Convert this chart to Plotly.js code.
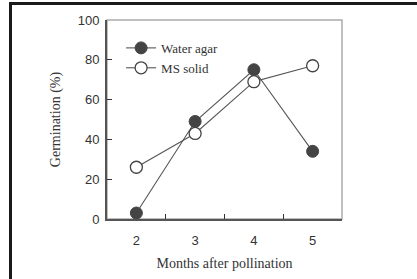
<!DOCTYPE html>
<html><head><meta charset="utf-8">
<script src="https://cdn.plot.ly/plotly-3.0.1.min.js"></script>
<style>
html,body{margin:0;padding:0;background:#fff;}
#chart{width:417px;height:279px;position:absolute;left:0;top:0;}
#frame{position:absolute;left:9px;top:2px;width:500px;height:400px;border-left:3px solid #1a1a1a;border-top:3px solid #1a1a1a;pointer-events:none;}
</style></head>
<body>
<div id="chart"></div>
<div id="frame"></div>
<script>
const months = [2, 3, 4, 5];
const waterAgar = [3, 49, 75, 34];
const msSolid = [26, 43, 69, 77];
const yTicks = [0, 20, 40, 60, 80, 100];
const boundaryTicks = [2.5, 3.5, 4.5];

const lineCol = '#555';
const traces = [
  {x: months, y: waterAgar, name: 'Water agar', mode: 'lines+markers', type: 'scatter',
   line: {color: lineCol, width: 1.1},
   marker: {symbol: 'circle', size: 12, color: '#444', line: {color: '#444', width: 1}}},
  {x: months, y: msSolid, name: 'MS solid', mode: 'lines+markers', type: 'scatter',
   line: {color: lineCol, width: 1.1},
   marker: {symbol: 'circle', size: 12, color: '#fff', line: {color: '#444', width: 1.3}}},
  {x: months, y: [null, null, null, null], xaxis: 'x2', yaxis: 'y', type: 'scatter', mode: 'markers', showlegend: false, hoverinfo: 'skip'}
];

const layout = {
  width: 417, height: 279,
  margin: {l: 107, r: 75, t: 20, b: 60},
  paper_bgcolor: '#fff', plot_bgcolor: '#fff',
  showlegend: true,
  legend: {x: 0.06, y: 0.935, xanchor: 'left', yanchor: 'top', bgcolor: 'rgba(0,0,0,0)',
           font: {family: 'Liberation Serif', size: 13, color: '#333'}, tracegroupgap: 0, itemwidth: 30},
  xaxis: {range: [1.5, 5.5], tickvals: boundaryTicks, ticktext: ['', '', ''], ticks: 'inside',
          ticklen: 5, tickcolor: '#333', tickwidth: 1.3, showticklabels: false,
          showgrid: false, zeroline: false, showline: true, linecolor: '#555', linewidth: 2},
  xaxis2: {overlaying: 'x', anchor: 'y', side: 'bottom', range: [1.5, 5.5], tickvals: months, ticktext: months.map(String),
           ticks: '', showgrid: false, zeroline: false, showline: false,
           tickfont: {family: 'Liberation Sans', size: 13, color: '#333'}, ticklabelstandoff: 12,
           title: {text: 'Months after pollination', font: {family: 'Liberation Serif', size: 14, color: '#333'}, standoff: 11}},
  yaxis: {range: [0, 100], tickvals: yTicks, ticks: 'inside', ticklen: 5, tickcolor: '#333', tickwidth: 1.3,
          showgrid: false, zeroline: false, showline: true, linecolor: '#555', linewidth: 2,
          tickfont: {family: 'Liberation Sans', size: 13, color: '#333'}, ticklabelstandoff: 3,
          title: {text: 'Germination (%)', font: {family: 'Liberation Serif', size: 14, color: '#333'}, standoff: 14}},
  shapes: [{type: 'rect', xref: 'paper', yref: 'paper', x0: 0, x1: 1, y0: 0, y1: 1,
            line: {color: '#aaa', width: 1.5}, layer: 'below'}]
};
Plotly.newPlot('chart', traces, layout, {staticPlot: true, displayModeBar: false});
</script>
</body></html>
